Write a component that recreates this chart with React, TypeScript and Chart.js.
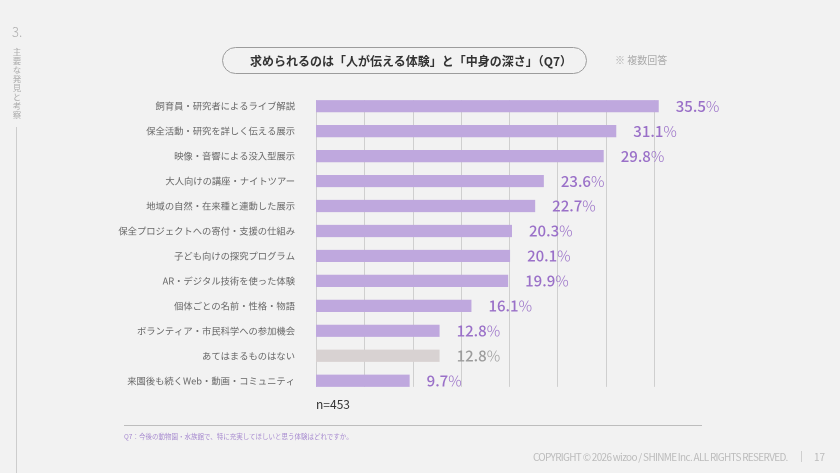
import React, { useEffect, useRef } from "react";
import { Chart, registerables } from "chart.js";

Chart.register(...registerables);

const categories: string[] = [
  "飼育員・研究者によるライブ解説",
  "保全活動・研究を詳しく伝える展示",
  "映像・音響による没入型展示",
  "大人向けの講座・ナイトツアー",
  "地域の自然・在来種と連動した展示",
  "保全プロジェクトへの寄付・支援の仕組み",
  "子ども向けの探究プログラム",
  "AR・デジタル技術を使った体験",
  "個体ごとの名前・性格・物語",
  "ボランティア・市民科学への参加機会",
  "あてはまるものはない",
  "来園後も続くWeb・動画・コミュニティ",
];

const values: number[] = [35.5, 31.1, 29.8, 23.6, 22.7, 20.3, 20.1, 19.9, 16.1, 12.8, 12.8, 9.7];

const gridTicks: number[] = [0, 5, 10, 15, 20, 25, 30, 35];

const noneCategory = "あてはまるものはない";

const PURPLE = "#bfa8de";
const GRAY_BAR = "#d8d2d2";
const PURPLE_TEXT = "#9a70c8";
const GRAY_TEXT = "#9c9c9c";
const FONT = "'Noto Sans CJK JP', 'Noto Sans', sans-serif";

export default function App() {
  const canvasRef = useRef<HTMLCanvasElement | null>(null);

  useEffect(() => {
    if (!canvasRef.current) return;

    const gridPlugin = {
      id: "customGrid",
      beforeDatasetsDraw(chart: any) {
        const meta = chart.getDatasetMeta(0);
        const els = meta.data;
        if (!els.length) return;
        const first = els[0];
        const last = els[els.length - 1];
        const top = first.y - first.height / 2;
        const bottom = last.y + last.height / 2;
        const xs = chart.scales.x;
        const ctx = chart.ctx;
        ctx.save();
        ctx.strokeStyle = "#cfcfcf";
        ctx.lineWidth = 1;
        gridTicks.forEach((t) => {
          const x = Math.round(xs.getPixelForValue(t)) + 0.5;
          ctx.beginPath();
          ctx.moveTo(x, top);
          ctx.lineTo(x, bottom);
          ctx.stroke();
        });
        ctx.restore();
      },
    };

    const labelPlugin = {
      id: "valueLabels",
      afterDatasetsDraw(chart: any) {
        const meta = chart.getDatasetMeta(0);
        const ctx = chart.ctx;
        ctx.save();
        ctx.textBaseline = "middle";
        ctx.textAlign = "left";
        meta.data.forEach((el: any, i: number) => {
          const isNone = categories[i] === noneCategory;
          const color = isNone ? GRAY_TEXT : PURPLE_TEXT;
          const num = values[i].toFixed(1);
          const x = el.x + 17;
          const y = el.y;
          ctx.fillStyle = color;
          ctx.font = `500 15px ${FONT}`;
          ctx.fillText(num, x, y);
          const w = ctx.measureText(num).width;
          ctx.font = `300 15px ${FONT}`;
          ctx.fillText("%", x + w, y);
        });
        ctx.restore();
      },
    };

    const chart = new Chart(canvasRef.current, {
      type: "bar",
      data: {
        labels: categories,
        datasets: [
          {
            data: values,
            backgroundColor: categories.map((c) => (c === noneCategory ? GRAY_BAR : PURPLE)),
            borderWidth: 0,
            barPercentage: 0.49,
            categoryPercentage: 1,
          },
        ],
      },
      options: {
        indexAxis: "y",
        animation: false,
        responsive: false,
        devicePixelRatio: 2,
        layout: {
          padding: { left: 0, top: 93.7, bottom: 79.8, right: 137.8 },
        },
        plugins: {
          legend: { display: false },
          tooltip: { enabled: false },
        },
        scales: {
          x: {
            display: false,
            min: 0,
            max: 40,
          },
          y: {
            afterFit: (scale: any) => {
              scale.width = 316;
            },
            grid: { display: false, drawTicks: false },
            border: { display: false },
            ticks: {
              padding: 21,
              color: "#666666",
              font: { family: FONT, size: 9.3 },
            },
          },
        },
      },
      plugins: [gridPlugin, labelPlugin],
    });

    return () => chart.destroy();
  }, []);

  const abs = (s: React.CSSProperties): React.CSSProperties => ({ position: "absolute", ...s });

  return (
    <div
      style={{
        position: "fixed",
        left: 0,
        top: 0,
        width: 840,
        height: 473,
        background: "#f2f2f2",
        fontFamily: FONT,
        overflow: "hidden",
      }}
    >
      <canvas ref={canvasRef} width={840} height={473} style={abs({ left: 0, top: 0, width: 840, height: 473 })} />

      <div style={abs({ left: 12, top: 24, fontSize: 13, color: "#afafaf", fontWeight: 300, lineHeight: "16px" })}>3.</div>
      <div
        style={abs({
          left: 12,
          top: 48,
          width: 10,
          writingMode: "vertical-rl",
          textOrientation: "upright",
          fontSize: 8.5,
          letterSpacing: 0.5,
          color: "#adadad",
          lineHeight: "10px",
          whiteSpace: "nowrap",
        })}
      >
        主要な発見と考察
      </div>
      <div style={abs({ left: 16, top: 127, width: 1, height: 346, background: "#cdcdcd" })} />

      <div
        style={abs({
          left: 222,
          top: 47,
          width: 365,
          height: 27,
          boxSizing: "border-box",
          border: "1px solid #9c9c9c",
          borderRadius: 14,
          display: "flex",
          alignItems: "center",
          paddingLeft: 27,
          fontSize: 12,
          fontWeight: 700,
          color: "#333",
          whiteSpace: "nowrap",
        })}
      >
        求められるのは「人が伝える体験」と「中身の深さ」（Q7）
      </div>
      <div style={abs({ left: 615, top: 53, fontSize: 10, color: "#ababab", lineHeight: "14px", whiteSpace: "nowrap" })}>
        ※ 複数回答
      </div>

      <div style={abs({ left: 316, top: 396, fontSize: 12, color: "#333", lineHeight: "16px" })}>n=453</div>
      <div style={abs({ left: 124, top: 425, width: 578, height: 1, background: "#bdbdbd" })} />
      <div style={abs({ left: 124, top: 432, fontSize: 6.5, color: "#a88cd0", lineHeight: "9px", whiteSpace: "nowrap" })}>
        Q7：今後の動物園・水族館で、特に充実してほしいと思う体験はどれですか。
      </div>

      <div
        style={abs({
          left: 533,
          top: 450,
          fontSize: 10,
          color: "#bcbcbc",
          lineHeight: "14px",
          letterSpacing: -0.7,
          whiteSpace: "nowrap",
        })}
      >
        COPYRIGHT © 2026 wizoo / SHINME Inc. ALL RIGHTS RESERVED.
      </div>
      <div style={abs({ left: 801, top: 451, width: 1, height: 11, background: "#cfcfcf" })} />
      <div style={abs({ left: 814, top: 450, fontSize: 10, color: "#bcbcbc", lineHeight: "14px" })}>17</div>
    </div>
  );
}
